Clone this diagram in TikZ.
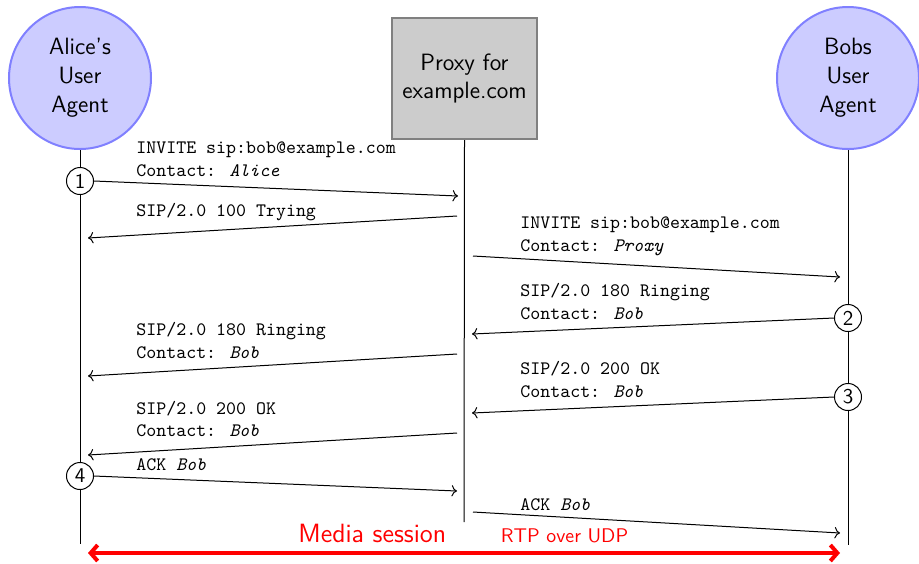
\documentclass[tikz,border=0pt]{standalone}
\usepackage{fontspec}
\usetikzlibrary{arrows.meta}
\begin{document}
\begin{tikzpicture}[x=0.5pt,y=-0.5pt,
  agent/.style={circle, draw=blue!50, fill=blue!20, line width=1pt, minimum size=71pt, inner sep=0pt, align=center, font=\fontsize{11.8}{14.5}\selectfont\sffamily},
  proxybox/.style={rectangle, draw=black!50, fill=black!20, line width=1pt, minimum width=72.5pt, minimum height=60.5pt, inner sep=0pt, align=center, font=\fontsize{11.8}{14}\selectfont\sffamily},
  lifeline/.style={line width=0.5pt},
  msg/.style={->, line width=0.5pt},
  num/.style={circle, draw, fill=white, line width=0.5pt, inner sep=0pt, minimum size=13.5pt, font=\fontsize{10.5}{12}\selectfont\sffamily},
  lbl/.style={anchor=base west, inner sep=0pt, align=left, font=\fontsize{9.5}{11.3}\selectfont\ttfamily},
  media/.style={red, line width=2pt, arrows={Straight Barb[length=3.5pt,width=8pt]-Straight Barb[length=3.5pt,width=8pt]}}
]
\useasboundingbox (0,0) rectangle (919,563);

% participants
\node[agent] (alice) at (80,78) {Alice's\\User\\Agent};
\node[proxybox] (proxy) at (464.5,78.5) {Proxy for\\example.com};
\node[agent] (bob) at (848,78) {Bobs\\User\\Agent};

% lifeline ends
\coordinate (aliceEnd) at (80,544);
\coordinate (proxyEnd) at (464,522);
\coordinate (bobEnd) at (848,545);
\draw[lifeline] (alice.south) -- (aliceEnd);
\draw[lifeline] (proxy.south) -- (proxyEnd);
\draw[lifeline] (bob.south) -- (bobEnd);

% numbered points
\node[num] (n1) at (80,181) {1};
\node[num] (n2) at (848,318) {2};
\node[num] (n3) at (848,397) {3};
\node[num] (n4) at (80,476) {4};

% arrow end points
\coordinate (a1e) at (458,196);
\coordinate (a2s) at (457,216); \coordinate (a2e) at (88,238);
\coordinate (a3s) at (473,256); \coordinate (a3e) at (840,277);
\coordinate (a4e) at (472,334);
\coordinate (a5s) at (457,354); \coordinate (a5e) at (88,376);
\coordinate (a6e) at (472,413);
\coordinate (a7s) at (457,433); \coordinate (a7e) at (88,455);
\coordinate (a8e) at (457,491);
\coordinate (a9s) at (473,512); \coordinate (a9e) at (840,533);
\coordinate (m1) at (88,553); \coordinate (m2) at (840,553);

% messages
\draw[msg] (n1.east) -- (a1e);
\draw[msg] (a2s) -- (a2e);
\draw[msg] (a3s) -- (a3e);
\draw[msg] (n2.west) -- (a4e);
\draw[msg] (a5s) -- (a5e);
\draw[msg] (n3.west) -- (a6e);
\draw[msg] (a7s) -- (a7e);
\draw[msg] (n4.east) -- (a8e);
\draw[msg] (a9s) -- (a9e);

% labels (base = baseline of last line)
\node[lbl] (l1) at (136,176) {INVITE sip:bob@example.com\\Contact: \textit{Alice}};
\node[lbl] (l2) at (136,216.5) {SIP/2.0 100 Trying};
\node[lbl] (l3) at (520,251) {INVITE sip:bob@example.com\\Contact: \textit{Proxy}};
\node[lbl] (l4) at (520,319.5) {SIP/2.0 180 Ringing\\Contact: \textit{Bob}};
\node[lbl] (l5) at (136,358.5) {SIP/2.0 180 Ringing\\Contact: \textit{Bob}};
\node[lbl] (l6) at (520,397.3) {SIP/2.0 200 OK\\Contact: \textit{Bob}};
\node[lbl] (l7) at (136,436.7) {SIP/2.0 200 OK\\Contact: \textit{Bob}};
\node[lbl] (l8) at (136,470.7) {ACK \textit{Bob}};
\node[lbl] (l9) at (520,510.7) {ACK \textit{Bob}};

% media session
\draw[media] (m1) -- (m2);
\node[anchor=base west, inner sep=0pt, text=red, font=\fontsize{13.2}{16}\selectfont\sffamily] (ms) at (298,542.7) {Media session};
\node[anchor=base west, inner sep=0pt, text=red, font=\fontsize{9.9}{12}\selectfont\sffamily] (rtp) at (500.5,542.7) {RTP over UDP};
\end{tikzpicture}
\end{document}
